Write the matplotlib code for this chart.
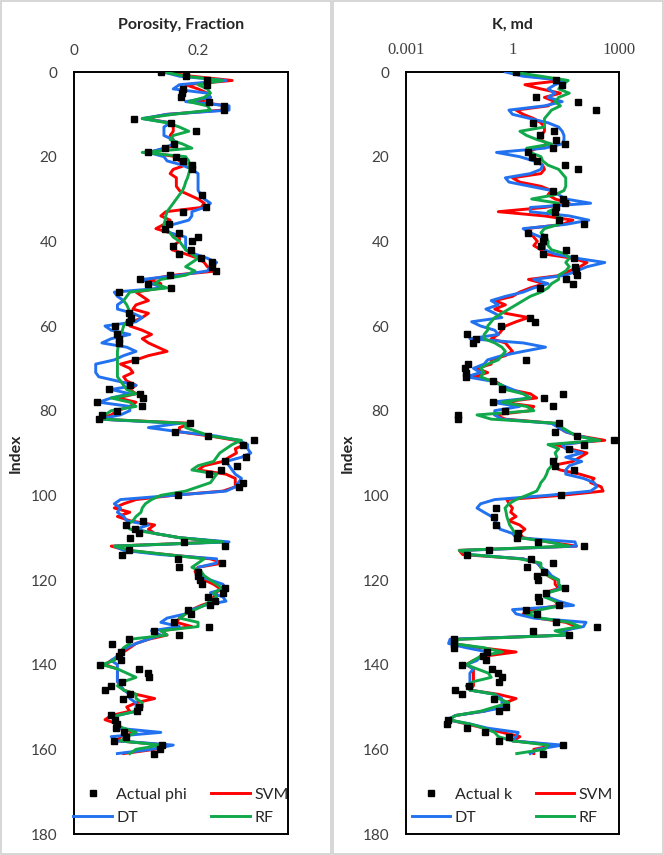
import matplotlib
matplotlib.use('Agg')
import matplotlib.pyplot as plt
from matplotlib.patches import Rectangle
import numpy as np

plt.rcParams['font.family'] = ['Lato', 'DejaVu Sans']

# ---- porosity panel (fraction), one value per index 0..161 ----
phi_svm = [0.144, 0.19, 0.255, 0.18, 0.2, 0.215, 0.22, 0.2, 0.245, 0.24,
           0.15, 0.115, 0.155, 0.16, 0.16, 0.155, 0.16, 0.165, 0.15, 0.12,
           0.165, 0.17, 0.18, 0.16, 0.155, 0.165, 0.165, 0.165, 0.17, 0.185,
           0.2, 0.21, 0.205, 0.148, 0.14, 0.155, 0.145, 0.132, 0.155, 0.17,
           0.17, 0.16, 0.158, 0.18, 0.2, 0.21, 0.215, 0.23, 0.16, 0.12,
           0.14, 0.14, 0.1, 0.11, 0.12, 0.1, 0.095, 0.12, 0.11, 0.095,
           0.09, 0.11, 0.125, 0.11, 0.12, 0.135, 0.15, 0.12, 0.1, 0.075,
           0.09, 0.095, 0.08, 0.085, 0.1, 0.09, 0.1, 0.07, 0.1, 0.09,
           0.07, 0.06, 0.04, 0.19, 0.17, 0.17, 0.22, 0.26, 0.275, 0.26,
           0.262, 0.25, 0.24, 0.21, 0.2, 0.245, 0.26, 0.26, 0.26, 0.24,
           0.16, 0.1, 0.08, 0.065, 0.09, 0.07, 0.09, 0.13, 0.12, 0.13,
           0.17, 0.24, 0.06, 0.085, 0.15, 0.22, 0.24, 0.2, 0.195, 0.2,
           0.21, 0.225, 0.235, 0.23, 0.225, 0.225, 0.205, 0.19, 0.18, 0.17,
           0.165, 0.19, 0.14, 0.15, 0.12, 0.1, 0.09, 0.08, 0.075, 0.06,
           0.05, 0.07, 0.07, 0.07, 0.07, 0.075, 0.08, 0.1, 0.13, 0.1,
           0.085, 0.09, 0.06, 0.05, 0.07, 0.07, 0.1, 0.075, 0.07, 0.15,
           0.13, 0.08]
phi_dt = [0.144, 0.17, 0.245, 0.17, 0.16, 0.215, 0.22, 0.18, 0.25, 0.25,
          0.15, 0.11, 0.155, 0.145, 0.145, 0.145, 0.16, 0.16, 0.145, 0.12,
          0.145, 0.15, 0.175, 0.19, 0.2, 0.2, 0.2, 0.2, 0.2, 0.205,
          0.21, 0.22, 0.21, 0.19, 0.19, 0.185, 0.16, 0.145, 0.155, 0.18,
          0.18, 0.18, 0.18, 0.195, 0.215, 0.23, 0.22, 0.215, 0.17, 0.11,
          0.125, 0.145, 0.065, 0.07, 0.08, 0.07, 0.07, 0.095, 0.11, 0.1,
          0.05, 0.06, 0.09, 0.06, 0.045, 0.085, 0.1, 0.08, 0.065, 0.035,
          0.035, 0.035, 0.04, 0.07, 0.1, 0.06, 0.09, 0.06, 0.04, 0.09,
          0.09, 0.075, 0.04, 0.17, 0.12, 0.17, 0.23, 0.265, 0.28, 0.28,
          0.285, 0.27, 0.245, 0.25, 0.255, 0.26, 0.27, 0.265, 0.26, 0.245,
          0.16, 0.075, 0.065, 0.075, 0.07, 0.08, 0.085, 0.12, 0.1, 0.13,
          0.17, 0.25, 0.065, 0.08, 0.14, 0.23, 0.23, 0.2, 0.2, 0.2,
          0.22, 0.24, 0.245, 0.22, 0.24, 0.245, 0.21, 0.19, 0.18, 0.15,
          0.14, 0.17, 0.125, 0.14, 0.12, 0.1, 0.085, 0.075, 0.07, 0.06,
          0.07, 0.07, 0.07, 0.07, 0.07, 0.075, 0.08, 0.09, 0.09, 0.1,
          0.1, 0.1, 0.07, 0.065, 0.068, 0.07, 0.14, 0.06, 0.07, 0.16,
          0.125, 0.07]
phi_rf = [0.144, 0.18, 0.24, 0.2, 0.215, 0.22, 0.21, 0.185, 0.215, 0.22,
          0.16, 0.11, 0.15, 0.17, 0.185, 0.16, 0.155, 0.175, 0.19, 0.11,
          0.18, 0.185, 0.185, 0.187, 0.185, 0.183, 0.18, 0.178, 0.175, 0.17,
          0.165, 0.16, 0.155, 0.15, 0.148, 0.147, 0.145, 0.145, 0.155, 0.16,
          0.17, 0.175, 0.18, 0.19, 0.2, 0.19, 0.18, 0.195, 0.18, 0.14,
          0.13, 0.15, 0.09, 0.085, 0.08, 0.085, 0.088, 0.09, 0.09, 0.085,
          0.08, 0.078, 0.075, 0.073, 0.072, 0.071, 0.07, 0.07, 0.07, 0.07,
          0.07, 0.07, 0.07, 0.075, 0.08, 0.085, 0.1, 0.06, 0.09, 0.1,
          0.06, 0.05, 0.045, 0.18, 0.18, 0.2, 0.22, 0.27, 0.255, 0.245,
          0.235, 0.23, 0.225, 0.2, 0.19, 0.23, 0.225, 0.22, 0.2, 0.18,
          0.14, 0.125, 0.115, 0.11, 0.108, 0.1, 0.095, 0.085, 0.09, 0.13,
          0.17, 0.24, 0.065, 0.09, 0.15, 0.21, 0.2, 0.19, 0.205, 0.21,
          0.22, 0.23, 0.24, 0.225, 0.23, 0.22, 0.21, 0.195, 0.18, 0.17,
          0.2, 0.2, 0.14, 0.15, 0.09, 0.09, 0.08, 0.075, 0.07, 0.065,
          0.045, 0.07, 0.085, 0.1, 0.08, 0.07, 0.08, 0.1, 0.1, 0.11,
          0.11, 0.1, 0.07, 0.065, 0.065, 0.08, 0.1, 0.085, 0.075, 0.14,
          0.1, 0.09]

phi_act_idx = [0, 1, 2, 3, 4, 5, 6, 7, 8, 9, 11, 12, 14, 17, 18, 19, 20, 21, 22, 23,
               29, 32, 33, 36, 37, 38, 39, 40, 41, 42, 43, 44, 45, 46, 47, 48, 49, 50, 51, 52,
               57, 58, 59, 60, 62, 63, 64, 68, 74, 75, 76, 77, 78, 79, 80, 81, 82, 83, 85, 86,
               87, 88, 91, 92, 93, 94, 95, 97, 98, 100, 106, 107, 108, 109, 110, 111, 112, 113, 114, 115,
               116, 117, 118, 119, 120, 121, 122, 123, 124, 125, 126, 127, 128, 130, 131, 132, 133, 134, 135, 137,
               138, 139, 140, 141, 142, 143, 144, 145, 146, 147, 148, 150, 151, 152, 153, 154, 155, 156, 157, 158,
               159, 160, 161]
phi_act = [0.141, 0.181, 0.215, 0.215, 0.176, 0.174, 0.172, 0.217, 0.242, 0.242, 0.097, 0.156, 0.197, 0.162, 0.147, 0.119, 0.165, 0.175, 0.19, 0.19,
           0.206, 0.213, 0.175, 0.153, 0.146, 0.17, 0.2, 0.191, 0.16, 0.189, 0.17, 0.204, 0.223, 0.223, 0.229, 0.155, 0.106, 0.119, 0.157, 0.073,
           0.089, 0.092, 0.089, 0.066, 0.069, 0.073, 0.073, 0.099, 0.09, 0.056, 0.107, 0.111, 0.037, 0.11, 0.07, 0.045, 0.041, 0.187, 0.163, 0.216,
           0.29, 0.273, 0.277, 0.244, 0.263, 0.237, 0.218, 0.272, 0.266, 0.167, 0.112, 0.084, 0.099, 0.104, 0.09, 0.178, 0.244, 0.088, 0.078, 0.167,
           0.238, 0.17, 0.2, 0.2, 0.203, 0.206, 0.244, 0.241, 0.216, 0.228, 0.219, 0.183, 0.188, 0.161, 0.218, 0.129, 0.17, 0.088, 0.062, 0.076,
           0.073, 0.076, 0.042, 0.104, 0.119, 0.121, 0.078, 0.06, 0.05, 0.09, 0.079, 0.104, 0.102, 0.059, 0.066, 0.069, 0.068, 0.08, 0.084, 0.065,
           0.142, 0.139, 0.129]

# ---- permeability panel, log10(k, md), one value per index 0..161 ----
logk_svm = [-0.07, 0.5, 1.4, 0.35, 0.8, 1.35, 0.9, 1.2, 1.0, 0.1,
            0.3, 0.6, 0.8, 0.9, 0.9, 0.8, 0.8, 1.0, 0.7, 0.4,
            0.6, 0.7, 0.85, 0.9, 0.8, 0.0, 0.2, 0.8, 1.1, 1.0,
            1.2, 1.6, 0.9, -0.4, 0.9, 1.7, 1.4, 0.4, 0.5, 0.6,
            0.7, 0.6, 0.8, 0.9, 1.7, 2.1, 1.9, 1.6, 1.4, 0.45,
            0.9, 0.5, 0.2, 0.0, -0.5, -0.2, -0.5, -0.2, 0.45, 0.1,
            -0.2, -0.3, -0.4, -0.6, -0.2, -0.1, 0.0, -0.2, -0.6, -0.6,
            -1.0, -0.7, -1.1, -0.5, -0.3, -0.1, 0.5, 0.68, -0.3, 0.6,
            0.5, -0.5, -0.2, 1.2, 1.3, 1.5, 1.9, 2.6, 1.2, 1.6,
            2.1, 1.9, 1.7, 1.1, 1.34, 1.9, 2.3, 2.2, 2.5, 2.55,
            1.38, -0.16, -0.1, 0.0, -0.05, 0.1, -0.1, 0.2, 0.35, 0.2,
            0.3, 1.0, 1.8, -1.5, -1.4, 0.3, 0.7, 0.8, 0.9, 1.0,
            1.2, 1.2, 1.3, 0.9, 1.0, 1.2, 1.3, 0.6, 0.3, 0.7,
            1.5, 1.8, 1.5, 1.5, -1.6, -1.7, -0.9, 0.1, -0.8, -1.1,
            -1.3, -1.1, -1.1, -1.1, -1.1, -1.1, -1.2, -0.4, 0.1, -0.2,
            -0.4, -0.8, -1.6, -1.8, -1.3, -0.8, -0.3, 0.21, 0.0, 1.2,
            0.6, 0.6]
logk_dt = [-0.2, 0.3, 1.5, 1.2, 1.0, 1.2, 1.0, 1.4, 0.9, -0.1,
           0.0, 0.5, 1.0, 1.3, 1.4, 1.45, 1.45, 1.4, 0.9, -0.45,
           0.2, 0.6, 0.85, 0.8, 0.5, -0.2, -0.1, 0.5, 1.1, 1.3,
           1.5, 2.2, 0.5, 0.5, 1.6, 2.15, 1.5, 0.3, 0.5, 0.8,
           1.0, 0.9, 0.9, 1.2, 1.8, 2.6, 2.1, 1.8, 1.5, 0.6,
           1.0, 0.6, 0.3, -0.2, -0.6, -0.4, -0.75, -0.5, -0.3, -1.15,
           -0.9, -0.5, -0.4, -1.2, 0.3, 0.93, 0.3, -0.3, -0.7, -0.8,
           -1.1, -0.9, -1.3, -0.6, -0.3, 0.0, 0.3, 0.5, -0.6, 0.2,
           -0.5, -0.5, -0.3, 1.1, 1.3, 1.5, 1.9, 2.4, 1.4, 1.5,
           1.95, 1.5, 1.95, 1.6, 1.5, 1.5, 2.0, 2.3, 2.37, 2.2,
           1.0, -0.5, -0.9, -1.0, -0.8, -0.59, -0.5, -0.4, -0.35, 0.0,
           0.1, 1.76, 1.8, -1.38, -1.2, 0.3, 0.7, 0.8, 1.0, 1.1,
           1.3, 1.3, 1.35, 1.0, 1.0, 1.3, 1.72, 0.0, 0.1, 0.6,
           2.07, 2.0, 1.4, 1.6, -1.76, -1.8, -1.3, -0.7, -0.9, -1.0,
           -1.3, -1.1, -1.2, -1.2, -1.2, -1.2, -1.2, -0.5, -0.3, -0.3,
           -0.2, -0.8, -1.6, -1.85, -1.2, -0.7, 0.16, 0.1, 0.0, 1.4,
           0.7, 0.5]
logk_rf = [0.0, 0.8, 1.57, 1.4, 1.3, 1.6, 1.3, 1.2, 1.35, 1.1,
           1.0, 0.9, 0.9, 0.9, 0.21, 0.4, 0.7, 1.1, 0.4, 0.5,
           0.8, 0.85, 1.0, 1.3, 1.4, 1.5, 1.5, 1.5, 1.45, 1.2,
           0.54, 1.3, 1.25, 1.0, 1.3, 1.4, 1.3, 0.9, 0.8, 0.95,
           1.0, 1.0, 1.1, 1.5, 1.6, 1.5, 1.6, 1.5, 1.3, 1.3,
           1.1, 1.0, 0.8, 0.5, 0.3, 0.1, -0.1, -0.3, -0.5, -0.6,
           -0.7, -0.7, -0.8, -0.8, -0.5, -0.3, -0.2, -0.3, -0.4, -0.7,
           -0.9, -0.8, -0.9, -0.6, -0.3, -0.2, 0.3, 0.5, -0.3, 0.4,
           0.6, -1.0, -0.6, 1.3, 1.4, 1.6, 1.8, 2.46, 1.0, 1.3,
           1.2, 1.25, 1.2, 1.1, 1.0, 0.96, 0.9, 0.8, 0.75, 0.68,
           0.4, 0.1, -0.1, -0.21, -0.18, -0.16, -0.12, -0.08, 0.0, 0.07,
           0.2, 1.0, 1.6, -1.5, -1.2, 0.2, 0.8, 0.8, 0.9, 1.0,
           1.3, 1.3, 1.43, 1.0, 0.9, 1.2, 1.4, 0.8, 0.4, 0.8,
           1.6, 1.9, 1.2, 1.6, -1.5, -1.7, -0.8, -0.3, -0.9, -1.1,
           -1.3, -1.0, -0.68, -0.6, -1.1, -1.3, -1.2, -0.5, -0.4, -0.1,
           -0.5, -0.9, -1.6, -1.8, -1.2, -0.8, -0.5, -0.4, 0.0, 1.0,
           0.9, 0.12]

k_act_idx = [0, 2, 3, 6, 7, 9, 12, 14, 15, 16, 17, 18, 19, 20, 21, 22, 23, 28, 30, 31,
             32, 33, 35, 36, 38, 39, 40, 41, 42, 43, 44, 46, 47, 48, 49, 50, 51, 58, 59, 60,
             62, 63, 64, 68, 69, 70, 71, 72, 73, 75, 76, 77, 78, 79, 80, 81, 82, 83, 85, 86,
             87, 88, 89, 92, 93, 94, 100, 103, 105, 107, 109, 110, 111, 112, 113, 114, 115, 116, 117, 118,
             119, 120, 122, 123, 124, 125, 126, 127, 128, 130, 131, 132, 133, 134, 135, 136, 137, 138, 139, 140,
             141, 142, 143, 144, 145, 146, 147, 148, 150, 151, 153, 154, 155, 156, 157, 158, 159, 161]
logk_act = [0.09, 1.23, 1.39, 0.66, 1.84, 2.36, 0.59, 1.16, 0.77, 1.23, 1.47, 1.14, 0.43, 0.55, 0.69, 1.49, 1.84, 1.14, 1.42, 1.47,
            1.23, 1.21, 1.32, 2.02, 0.45, 0.89, 0.87, 0.8, 1.52, 0.85, 1.74, 1.76, 1.78, 1.81, 1.5, 1.7, 0.77, 0.49, 0.62, -0.33,
            -1.29, -1.03, -1.1, 0.39, -1.24, -1.34, -1.31, -1.31, -0.55, -0.3, 1.42, 0.89, -0.55, 1.14, -0.2, -1.53, -1.53, 1.32, 1.21, 1.83,
            2.87, 2.02, 1.58, 1.15, 1.2, 1.73, 1.38, -0.47, -0.52, -0.46, 0.16, 0.12, 0.72, 2.02, -0.66, -1.29, 0.53, 1.15, 0.4, 0.89,
            0.68, 0.73, 1.48, 0.94, 0.72, 0.74, 1.32, 0.38, 0.68, 1.23, 2.38, 0.59, 1.58, -1.64, -1.64, -1.64, -0.71, -0.84, -0.75, -1.41,
            -0.59, -0.42, -0.3, -0.39, -1.23, -1.63, -1.43, -0.52, -0.18, -0.38, -1.83, -1.85, -1.29, -0.77, -0.11, -0.38, 1.42, 0.87]

index = np.arange(len(phi_svm))

RED = '#FF0000'
BLUE = '#2272F0'
GREEN = '#10A84A'
W, H = 664, 855

fig = plt.figure(figsize=(W / 100, H / 100), dpi=100)

# grey chart-area frames (Excel style)
for x0 in (1, 333):
    fig.add_artist(Rectangle((x0 / W, 1 / H), 330 / W, (H - 2) / H, transform=fig.transFigure,
                             fill=False, edgecolor='#D0D0D0', linewidth=1.2))


def style_axes(ax):
    ax.set_ylim(180, 0)
    ax.set_yticks(np.arange(0, 181, 20))
    ax.xaxis.tick_top()
    ax.tick_params(axis='both', length=0, labelsize=11, colors='#404040')
    ax.tick_params(axis='x', pad=10)
    ax.tick_params(axis='y', pad=12)
    for s in ax.spines.values():
        s.set_color('black')
        s.set_linewidth(1.4)


def draw_lines(ax, act_x, act_y, svm, dt, rf, act_label):
    m, = ax.plot(act_x, act_y, 's', color='black', markersize=4, linestyle='none', zorder=5)
    l_svm, = ax.plot(svm, index, color=RED, lw=2.1, zorder=2)
    l_dt, = ax.plot(dt, index, color=BLUE, lw=2.1, zorder=3)
    l_rf, = ax.plot(rf, index, color=GREEN, lw=2.1, zorder=4)
    ax.legend([m, l_dt, l_svm, l_rf], [act_label, 'DT', 'SVM', 'RF'], ncol=2, frameon=False,
              loc='lower center', bbox_to_anchor=(0.5, -0.005), fontsize=11.5, handlelength=2.4,
              columnspacing=1.5, labelspacing=0.55, handletextpad=0.3, labelcolor='#262626',
              borderpad=0.3)


# porosity
ax1 = fig.add_axes([74 / W, 1 - 834 / H, 214 / W, 762 / H])
style_axes(ax1)
ax1.set_xlim(0, 0.345)
ax1.set_xticks([0, 0.2])
ax1.set_xticklabels(['0', '0.2'])
draw_lines(ax1, phi_act, phi_act_idx, phi_svm, phi_dt, phi_rf, 'Actual phi')

# permeability
k_svm = 10 ** np.array(logk_svm)
k_dt = 10 ** np.array(logk_dt)
k_rf = 10 ** np.array(logk_rf)
k_act = 10 ** np.array(logk_act)
ax2 = fig.add_axes([406 / W, 1 - 834 / H, 213 / W, 762 / H])
style_axes(ax2)
ax2.set_xscale('log')
ax2.set_xlim(0.001, 1000)
ax2.set_xticks([0.001, 1, 1000])
ax2.set_xticklabels(['0.001', '1', '1000'], family=['Liberation Serif', 'DejaVu Serif'], fontsize=12)
ax2.minorticks_off()
ax2.set_yticks(np.arange(0, 181, 20))
draw_lines(ax2, k_act, k_act_idx, k_svm, k_dt, k_rf, 'Actual k')

fig.text(181 / W, 1 - 25 / H, 'Porosity, Fraction', ha='center', va='center',
         fontsize=11.5, fontweight='bold', color='#262626')
fig.text(512 / W, 1 - 25 / H, 'K, md', ha='center', va='center',
         fontsize=11.5, fontweight='bold', color='#262626')
for xi in (16, 348):
    fig.text(xi / W, 1 - 453 / H, 'Index', ha='center', va='center', rotation=90,
             fontsize=11.5, fontweight='bold', color='#262626')

fig.savefig('out.png', dpi=100)
